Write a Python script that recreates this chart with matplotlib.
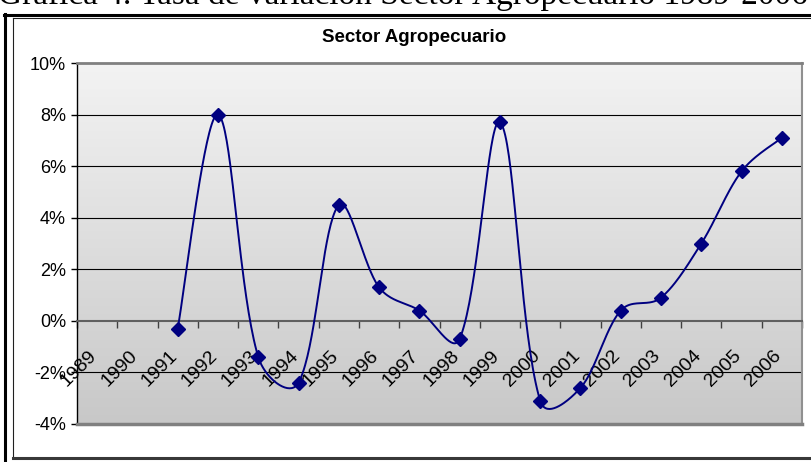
import numpy as np
import matplotlib
matplotlib.use("Agg")
import matplotlib.pyplot as plt
from matplotlib.lines import Line2D
from matplotlib.ticker import FuncFormatter
from matplotlib.transforms import ScaledTranslation

years = ["1989", "1990", "1991", "1992", "1993", "1994", "1995", "1996", "1997",
         "1998", "1999", "2000", "2001", "2002", "2003", "2004", "2005", "2006"]
# tasa de variacion (%), sin dato para 1989 y 1990
data_years = years[2:]
rate = [-0.3, 8.0, -1.4, -2.4, 4.5, 1.3, 0.4, -0.7, 7.7, -3.1, -2.6, 0.4, 0.9, 3.0, 5.8, 7.1]
yticks = [-4, -2, 0, 2, 4, 6, 8, 10]

plt.rcParams['font.family'] = ['Liberation Sans', 'DejaVu Sans']

W, H = 811, 462
# el grafico original era mas ancho (fue comprimido en horizontal)
PX_X = 2 * (802 - 77) / len(years)
PX_Y = (424 - 63) / 14.0


def smooth(x, y, n=40):
    # curva suavizada tipo Excel: Bezier con tangentes ponderadas por longitud
    p = np.column_stack([np.asarray(x, float) * PX_X, np.asarray(y, float) * PX_Y])
    p = np.vstack([p[0], p, p[-1]])
    t = np.linspace(0, 1, n)[:, None]
    out = []
    for i in range(1, len(p) - 2):
        a, b, c, d = p[i - 1], p[i], p[i + 1], p[i + 2]
        d0 = np.hypot(*(b - a))
        d1 = np.hypot(*(c - b))
        d2 = np.hypot(*(d - c))
        c1 = b + (c - a) * (d1 / (d0 + d1) / 3 if d0 > 0 else 1 / 6)
        c2 = c - (d - b) * (d1 / (d1 + d2) / 3 if d2 > 0 else 1 / 6)
        seg = (1 - t) ** 3 * b + 3 * (1 - t) ** 2 * t * c1 + 3 * (1 - t) * t ** 2 * c2 + t ** 3 * c
        out.append(seg)
    out = np.vstack(out)
    return out[:, 0] / PX_X, out[:, 1] / PX_Y


fig = plt.figure(figsize=(W / 100, H / 100), dpi=100)
ax = fig.add_axes([77 / W, (H - 424) / H, (802 - 77) / W, (424 - 63) / H])

ax.set_xlim(0, len(years))
ax.set_ylim(-4, 10)

# fondo degradado
grad = np.linspace(0, 1, 256)[:, None]
ax.imshow(grad, extent=[0, 1, 0, 1], transform=ax.transAxes, aspect='auto',
          cmap=matplotlib.colors.LinearSegmentedColormap.from_list('g', ['#f3f3f3', '#c8c8c8']),
          zorder=0)

for v in yticks:
    if v in (-4, 0, 10):
        continue
    ax.axhline(v, color='black', lw=0.8, zorder=1)

xpos = [years.index(yr) + 0.5 for yr in data_years]
sx, sy = smooth(xpos, rate)
ax.plot(sx, sy, color='#000080', lw=1.4, zorder=3)
ax.plot(xpos, rate, 'D', color='#000080', ms=7, zorder=4)

# ejes
ax.spines['top'].set_color('#808080')
ax.spines['top'].set_linewidth(2)
ax.spines['right'].set_color('#909090')
ax.spines['right'].set_linewidth(1.5)
ax.spines['left'].set_color('black')
ax.spines['left'].set_linewidth(1)
ax.spines['bottom'].set_position(('data', 0))
ax.spines['bottom'].set_color('#606060')
ax.spines['bottom'].set_linewidth(1.5)
ax.axhline(-4, color='#808080', lw=2.5, zorder=5, clip_on=False)

ax.set_yticks(yticks)
ax.yaxis.set_major_formatter(FuncFormatter(lambda v, p: f"{v:.0f}%"))
ax.tick_params(axis='y', direction='out', length=4, width=1, labelsize=13, pad=4)

ax.set_xticks(range(len(years) + 1))
ax.set_xticklabels([])
ax.set_xticks([i + 0.5 for i in range(len(years))], minor=True)
ax.set_xticklabels(years, minor=True)
ax.tick_params(axis='x', which='major', direction='out', length=5, width=1, color='#404040')
ax.tick_params(axis='x', which='minor', length=0, labelsize=14, pad=19)
shift = ScaledTranslation(-9 / 100, 0, fig.dpi_scale_trans)
for lab in ax.get_xticklabels(minor=True):
    lab.set_rotation(45)
    lab.set_ha('right')
    lab.set_rotation_mode('anchor')
    lab.set_transform(lab.get_transform() + shift)

fig.text(414 / W, 1 - 42 / H, "Sector Agropecuario", ha='center', va='baseline',
         fontsize=13.5, fontweight='bold')

# texto del documento, recortado arriba
fig.text(808 / W, 1 - 4 / H, "Gráfica 4. Tasa de variación Sector Agropecuario 1989-2006",
         ha='right', va='baseline', fontsize=24, family=['Liberation Serif'])

# marcos
def hline(y, x0, x1, lw, c):
    fig.add_artist(Line2D([x0 / W, x1 / W], [1 - y / H, 1 - y / H], lw=lw, color=c))

def vline(x, y0, y1, lw, c):
    fig.add_artist(Line2D([x / W, x / W], [1 - y0 / H, 1 - y1 / H], lw=lw, color=c))

hline(14.5, 4, W, 2.2, 'black')
vline(5, 13.5, H, 2.2, 'black')
hline(17.5, 12.5, W, 0.8, '#202020')
vline(13, 17.5, 457, 0.8, '#202020')
hline(457.5, 12.5, W, 2.2, '#383838')

fig.savefig("out.png", dpi=100)
